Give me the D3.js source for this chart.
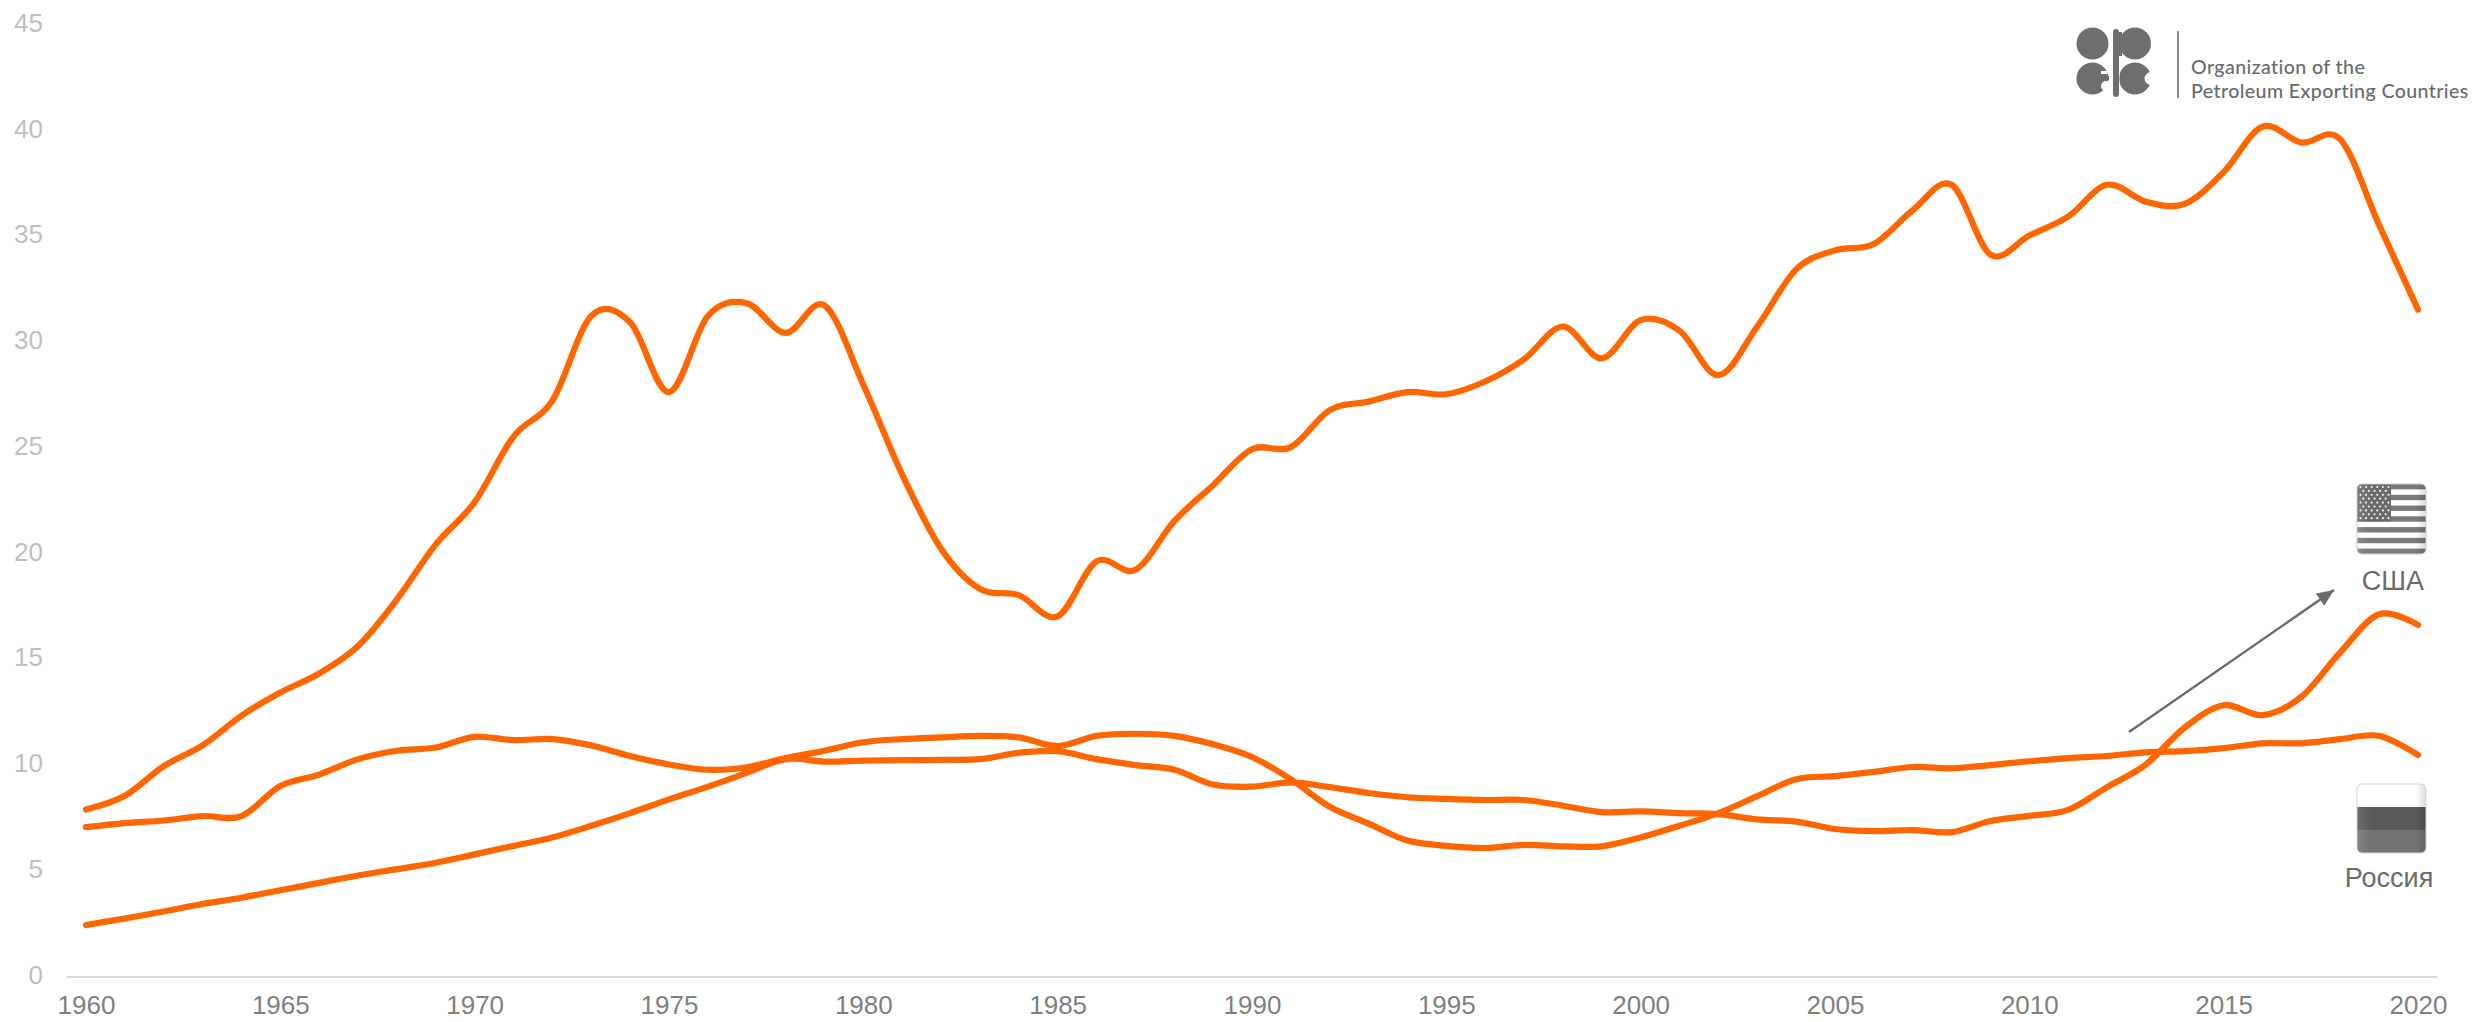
<!DOCTYPE html>
<html><head><meta charset="utf-8">
<script src="https://cdn.jsdelivr.net/npm/d3@7"></script>
<style>html,body{margin:0;padding:0;background:#fff;overflow:hidden}svg{display:block}text{font-family:"Liberation Sans",Arial,sans-serif}</style>
</head><body><svg id="c" width="2475" height="1022"></svg>
<script>
const years = d3.range(1960, 2021);
const yTicks = [0,5,10,15,20,25,30,35,40,45];
const xTicks = [1960,1965,1970,1975,1980,1985,1990,1995,2000,2005,2010,2015,2020];
const seriesA = [7.87,8.52,9.92,10.9,12.3,13.4,14.3,15.6,17.8,20.4,22.4,25.5,27.2,31.2,30.9,27.6,31.2,31.8,30.4,31.7,27.95,23.7,20.2,18.3,18.0,17.0,19.6,19.2,21.5,23.2,24.9,25.0,26.75,27.15,27.6,27.5,28.1,29.15,30.7,29.2,31.0,30.5,28.4,30.7,33.4,34.3,34.6,36.2,37.4,34.1,35.0,35.9,37.4,36.6,36.5,38.0,40.15,39.4,39.55,35.5,31.5];
const seriesB = [7.04,7.23,7.35,7.56,7.56,8.98,9.52,10.25,10.65,10.8,11.3,11.15,11.2,10.9,10.4,10.0,9.75,9.87,10.3,10.65,11.05,11.2,11.28,11.35,11.28,10.87,11.35,11.45,11.35,10.95,10.35,9.3,8.0,7.2,6.4,6.15,6.05,6.2,6.13,6.13,6.55,7.1,7.7,8.5,9.3,9.45,9.65,9.88,9.82,9.97,10.15,10.3,10.4,10.57,10.63,10.77,11.0,11.0,11.2,11.35,10.45];
const seriesC = [2.41,2.72,3.05,3.4,3.7,4.05,4.4,4.75,5.05,5.35,5.75,6.15,6.55,7.1,7.7,8.35,8.95,9.6,10.25,10.13,10.18,10.2,10.22,10.25,10.55,10.63,10.25,9.97,9.75,9.05,8.95,9.15,8.93,8.65,8.45,8.37,8.32,8.32,8.05,7.75,7.78,7.7,7.65,7.4,7.3,6.95,6.85,6.9,6.8,7.33,7.57,7.85,8.93,10.0,11.75,12.8,12.33,13.2,15.3,17.1,16.6];
const allSeries = [seriesA, seriesB, seriesC];
const labelUS = "США", labelRU = "Россия";
const logoLines = ["Organization of the","Petroleum Exporting Countries"];

const svg = d3.select("#c");
const x = d3.scaleLinear().domain([1960,2020]).range([86,2418]);
const y = d3.scaleLinear().domain([0,45]).range([976,24]);

// axes
const gx = svg.append("g").attr("transform","translate(0,976)")
  .call(d3.axisBottom(x).tickValues(xTicks).tickFormat(d3.format("d")).tickSize(0).tickPadding(20));
gx.select(".domain").remove();
gx.selectAll("text").attr("font-size",26).attr("fill","#7f7f7f").style("font-family",'"Liberation Sans",Arial,sans-serif');
const gy = svg.append("g").attr("transform","translate(43,-1)")
  .call(d3.axisLeft(y).tickValues(yTicks).tickSize(0).tickPadding(0));
gy.select(".domain").remove();
gy.selectAll("text").attr("font-size",26).attr("fill","#bfbfbf").style("font-family",'"Liberation Sans",Arial,sans-serif');
svg.append("line").attr("x1",67).attr("x2",2437).attr("y1",y(0)+1).attr("y2",y(0)+1).attr("stroke","#d9d9d9").attr("stroke-width",2);

// lines
const line = d3.line().x((d,i)=>x(years[i])).y(d=>y(d)).curve(d3.curveCatmullRom.alpha(0));
svg.selectAll("path.s").data(allSeries).join("path").attr("class","s")
  .attr("d",line).attr("fill","none").attr("stroke","#ff6600").attr("stroke-width",6.2)
  .attr("stroke-linecap","round").attr("stroke-linejoin","round");

// arrow
const defs = svg.append("defs");
defs.append("marker").attr("id","ah").attr("markerUnits","userSpaceOnUse").attr("viewBox","0 0 16 14")
  .attr("refX",16).attr("refY",7).attr("markerWidth",17).attr("markerHeight",15).attr("orient","auto")
  .append("path").attr("d","M0,0L16,7L0,14Z").attr("fill","#6b6b6b");
svg.append("line").attr("x1",2129).attr("y1",732).attr("x2",2334).attr("y2",590)
  .attr("stroke","#6b6b6b").attr("stroke-width",2.4).attr("marker-end","url(#ah)");

// flag gloss
const gl = defs.append("linearGradient").attr("id","gloss");
gl.append("stop").attr("offset",0).attr("stop-color","#fff").attr("stop-opacity",.12);
gl.append("stop").attr("offset",.2).attr("stop-color","#fff").attr("stop-opacity",0);
gl.append("stop").attr("offset",.85).attr("stop-color","#000").attr("stop-opacity",0);
gl.append("stop").attr("offset",1).attr("stop-color","#000").attr("stop-opacity",.14);

// US flag
const fx=2357, fw=69, uy=484, uh=70;
defs.append("clipPath").attr("id","cu").append("rect").attr("x",fx).attr("y",uy).attr("width",fw).attr("height",uh).attr("rx",5);
const us = svg.append("g").attr("clip-path","url(#cu)");
us.append("rect").attr("x",fx).attr("y",uy).attr("width",fw).attr("height",uh).attr("fill","#fff");
const sh = uh/13;
d3.range(0,13,2).forEach(i=>{
  us.append("rect").attr("x",fx).attr("y",uy+i*sh).attr("width",fw).attr("height",sh).attr("fill","#7a7a7a");
});
us.append("rect").attr("x",fx).attr("y",uy).attr("width",34).attr("height",37.5).attr("fill","#6a6a6a");
d3.range(9).forEach(r=>{
  d3.range(r%2?5:6).forEach(c=>{
    us.append("circle").attr("cx",fx+3.5+(r%2?2.8:0)+c*5.6).attr("cy",uy+3+r*3.9).attr("r",1.1).attr("fill","#eee");
  });
});
us.append("rect").attr("x",fx).attr("y",uy).attr("width",fw).attr("height",uh).attr("fill","url(#gloss)");
svg.append("rect").attr("x",fx).attr("y",uy).attr("width",fw).attr("height",uh).attr("rx",5).attr("fill","none").attr("stroke","#ccc");

// Russia flag
const ry=784, rh=69;
defs.append("clipPath").attr("id","cr").append("rect").attr("x",fx).attr("y",ry).attr("width",fw).attr("height",rh).attr("rx",5);
const ru = svg.append("g").attr("clip-path","url(#cr)");
["#ffffff","#595959","#737373"].forEach((c,i)=>{
  ru.append("rect").attr("x",fx).attr("y",ry+i*rh/3).attr("width",fw).attr("height",rh/3).attr("fill",c);
});
ru.append("rect").attr("x",fx).attr("y",ry).attr("width",fw).attr("height",rh).attr("fill","url(#gloss)");
svg.append("rect").attr("x",fx).attr("y",ry).attr("width",fw).attr("height",rh).attr("rx",5).attr("fill","none").attr("stroke","#d5d5d5");

// country labels
svg.append("text").attr("x",2393).attr("y",590).attr("text-anchor","middle").attr("font-size",27).attr("fill","#6b6b6b").text(labelUS);
svg.append("text").attr("x",2389).attr("y",887).attr("text-anchor","middle").attr("font-size",27).attr("fill","#6b6b6b").text(labelRU);

// OPEC logo
const lg = svg.append("g").attr("fill","#6e6e6e");
lg.append("circle").attr("cx",2092.5).attr("cy",43.5).attr("r",16);
lg.append("circle").attr("cx",2135).attr("cy",43.5).attr("r",16);
lg.append("circle").attr("cx",2092.5).attr("cy",78.5).attr("r",16);
lg.append("circle").attr("cx",2135).attr("cy",78.5).attr("r",16);
// separations and bites
lg.append("rect").attr("x",2109.5).attr("y",26).attr("width",10).attr("height",72).attr("fill","#fff");
lg.append("rect").attr("x",2113).attr("y",29).attr("width",6).attr("height",68).attr("rx",3);
lg.append("rect").attr("x",2116).attr("y",32).attr("width",6).attr("height",24);
lg.append("circle").attr("cx",2151).attr("cy",78.5).attr("r",6.5).attr("fill","#fff");
lg.append("rect").attr("x",2101).attr("y",71).attr("width",8).attr("height",3).attr("fill","#fff");
lg.append("circle").attr("cx",2106).attr("cy",86).attr("r",5).attr("fill","#fff");
lg.append("rect").attr("x",2104).attr("y",76).attr("width",5).attr("height",4);
svg.append("line").attr("x1",2178).attr("x2",2178).attr("y1",31).attr("y2",98).attr("stroke","#8a8a8a").attr("stroke-width",2);
logoLines.forEach((t,i)=>{
  svg.append("text").attr("x",2191).attr("y",74+i*24).attr("font-size",19.6).attr("letter-spacing",0.4)
    .style("font-family",'Lato,"Open Sans",sans-serif').attr("font-weight",500).attr("fill","#6a6a6a").text(t);
});
</script></body></html>
